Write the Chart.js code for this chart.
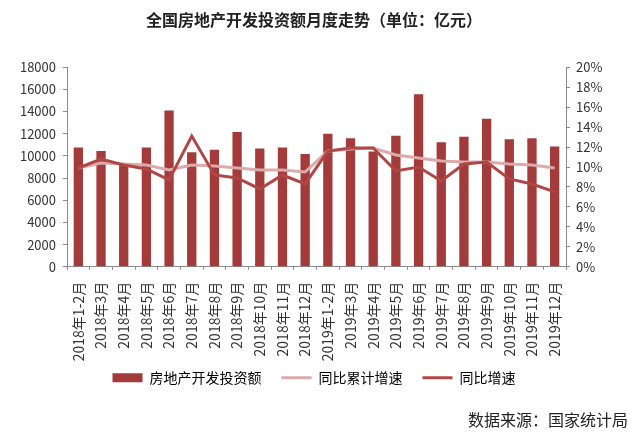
<!DOCTYPE html>
<html>
<head>
<meta charset="utf-8">
<script src="https://cdn.jsdelivr.net/npm/chart.js@4"></script>
<style>
  html, body { margin: 0; padding: 0; background: #fff; }
  #wrap { width: 640px; height: 436px; }
</style>
</head>
<body>
<div id="wrap"><canvas id="investChart"></canvas></div>
<script>
// Data
const months = ['2018年1-2月', '2018年3月', '2018年4月', '2018年5月', '2018年6月', '2018年7月',
    '2018年8月', '2018年9月', '2018年10月', '2018年11月', '2018年12月', '2019年1-2月',
    '2019年3月', '2019年4月', '2019年5月', '2019年6月', '2019年7月', '2019年8月',
    '2019年9月', '2019年10月', '2019年11月', '2019年12月'];
const investment = [10760, 10450, 9180, 10760, 14090, 10330, 10550, 12150, 10660, 10760, 10180, 12000,
    11600, 10390, 11820, 15550, 11240, 11730, 13360, 11510, 11600, 10850];
const cumulativeGrowth = [9.9, 10.4, 10.3, 10.2, 9.7, 10.2, 10.1, 9.9, 9.7, 9.7, 9.5, 11.6,
    11.8, 11.9, 11.2, 10.9, 10.6, 10.5, 10.5, 10.3, 10.2, 9.9];
const monthlyGrowth = [9.9, 10.8, 10.2, 9.8, 8.7, 13.1, 9.2, 8.9, 7.8, 9.2, 8.3, 11.6,
    11.9, 11.9, 9.6, 10.0, 8.6, 10.3, 10.5, 8.8, 8.3, 7.5];
const leftTicks = { min: 0, max: 18000, step: 2000 };
const rightTicks = { min: 0, max: 20, step: 2 };

const fontFamily = '"Noto Sans CJK SC", "Noto Sans", sans-serif';
const barColor = '#a43b3b';
const cumColor = '#dcaaaa';
const monColor = '#b04747';
const axisColor = '#8c8c8c';

Chart.defaults.font.family = fontFamily;
Chart.defaults.color = '#333';

// legend padding is also used vertically; pull the legend back up under the labels
const legendNudge = {
    id: 'legendNudge',
    afterLayout(chart) {
        if (chart.legend) {
            chart.legend.top -= 12;
            chart.legend.bottom -= 12;
        }
    }
};

const ctx = document.getElementById('investChart');

new Chart(ctx, {
    type: 'bar',
    data: {
        labels: months,
        datasets: [{
            type: 'bar',
            label: '房地产开发投资额',
            data: investment,
            backgroundColor: barColor,
            yAxisID: 'y',
            barPercentage: 0.41,
            categoryPercentage: 1,
            order: 3
        }, {
            type: 'line',
            label: '同比累计增速',
            data: cumulativeGrowth,
            borderColor: cumColor,
            borderWidth: 3,
            pointRadius: 0,
            yAxisID: 'y1',
            order: 2
        }, {
            type: 'line',
            label: '同比增速',
            data: monthlyGrowth,
            borderColor: monColor,
            borderWidth: 3,
            pointRadius: 0,
            yAxisID: 'y1',
            order: 1
        }]
    },
    plugins: [legendNudge],
    options: {
        responsive: true,
        maintainAspectRatio: false,
        animation: false,
        layout: {
            padding: { left: 0, right: 12, top: 0, bottom: 0 }
        },
        scales: {
            x: {
                afterFit: function (scale) {
                    scale.height = 96;
                },
                grid: {
                    drawOnChartArea: false,
                    color: axisColor,
                    tickLength: 3
                },
                border: { color: axisColor },
                ticks: {
                    minRotation: 90,
                    maxRotation: 90,
                    autoSkip: false,
                    padding: 12,
                    font: { size: 14 }
                }
            },
            y: {
                position: 'left',
                min: leftTicks.min,
                max: leftTicks.max,
                afterFit: function (scale) {
                    scale.width = 67;
                },
                grid: {
                    drawOnChartArea: false,
                    color: axisColor,
                    tickLength: 4
                },
                border: { color: axisColor },
                ticks: {
                    stepSize: leftTicks.step,
                    padding: 7,
                    font: { size: 13 },
                    callback: function (value) {
                        return String(value);
                    }
                }
            },
            y1: {
                position: 'right',
                min: rightTicks.min,
                max: rightTicks.max,
                afterFit: function (scale) {
                    scale.width = 62;
                },
                grid: {
                    drawOnChartArea: false,
                    color: axisColor,
                    tickLength: 4
                },
                border: { color: axisColor },
                ticks: {
                    stepSize: rightTicks.step,
                    padding: 6,
                    font: { size: 13 },
                    callback: function (value) {
                        return value + '%';
                    }
                }
            }
        },
        plugins: {
            title: {
                display: true,
                text: '全国房地产开发投资额月度走势（单位：亿元）',
                color: '#222',
                font: { size: 16, weight: 'bold' },
                padding: { top: 10, bottom: 38 }
            },
            subtitle: {
                display: true,
                position: 'bottom',
                align: 'end',
                text: '数据来源：国家统计局',
                color: '#222',
                font: { size: 16 },
                padding: { top: 3.6, bottom: 6.4 }
            },
            legend: {
                display: true,
                position: 'bottom',
                labels: {
                    usePointStyle: true,
                    pointStyleWidth: 30,
                    boxHeight: 9,
                    padding: 20,
                    font: { size: 14 },
                    generateLabels: function (chart) {
                        const ds = chart.data.datasets;
                        return [{
                            text: ds[0].label,
                            fillStyle: barColor,
                            strokeStyle: barColor,
                            lineWidth: 0,
                            pointStyle: 'rect',
                            datasetIndex: 0
                        }, {
                            text: ds[1].label,
                            fillStyle: cumColor,
                            strokeStyle: cumColor,
                            lineWidth: 3,
                            pointStyle: 'line',
                            datasetIndex: 1
                        }, {
                            text: ds[2].label,
                            fillStyle: monColor,
                            strokeStyle: monColor,
                            lineWidth: 3,
                            pointStyle: 'line',
                            datasetIndex: 2
                        }];
                    }
                }
            },
            tooltip: { enabled: false }
        }
    }
});
</script>
</body>
</html>
